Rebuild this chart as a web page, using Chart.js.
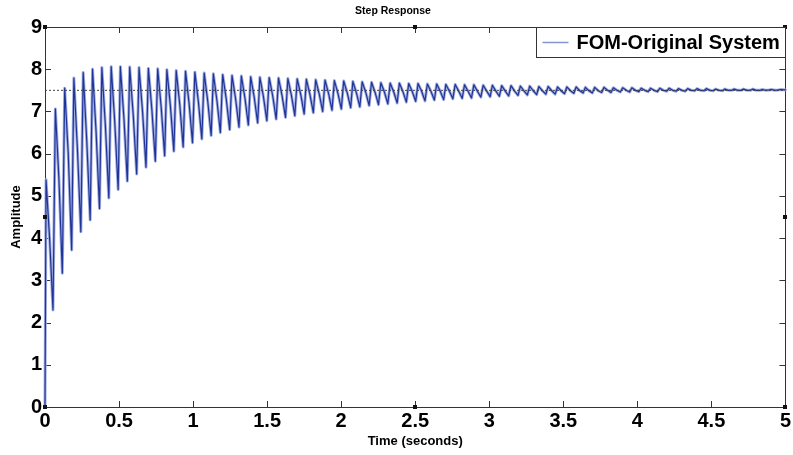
<!DOCTYPE html>
<html>
<head>
<meta charset="utf-8">
<script src="https://cdn.jsdelivr.net/npm/chart.js@4.4.0/dist/chart.umd.min.js"></script>
<style>
html, body { margin: 0; padding: 0; background: #fff; }
#wrap { width: 793px; height: 455px; }
</style>
</head>
<body>
<div id="wrap"><canvas id="stepChart" width="793" height="455"></canvas></div>
<script>
// step response: one peak, shoulder and trough per cycle
var startTime = 0, startAmp = 0;
var endTime = 5, endAmp = 7.51;
var finalValue = 7.5;

var peakTime = [0.007, 0.070, 0.133, 0.195, 0.258, 0.321, 0.384, 0.447, 0.509, 0.572,
  0.635, 0.698, 0.761, 0.823, 0.886, 0.949, 1.012, 1.075, 1.137, 1.200,
  1.263, 1.326, 1.389, 1.451, 1.514, 1.577, 1.640, 1.703, 1.765, 1.828,
  1.891, 1.954, 2.017, 2.079, 2.142, 2.205, 2.268, 2.331, 2.393, 2.456,
  2.519, 2.582, 2.645, 2.707, 2.770, 2.833, 2.896, 2.959, 3.021, 3.084,
  3.147, 3.210, 3.273, 3.335, 3.398, 3.461, 3.524, 3.587, 3.649, 3.712,
  3.775, 3.838, 3.901, 3.963, 4.026, 4.089, 4.152, 4.215, 4.277, 4.340,
  4.403, 4.466, 4.529, 4.591, 4.654, 4.717, 4.780, 4.843, 4.905, 4.968];
var peakAmp = [5.38, 7.06, 7.55, 7.79, 7.92, 8.00, 8.04, 8.06, 8.06, 8.05,
  8.04, 8.02, 8.01, 7.99, 7.97, 7.95, 7.93, 7.91, 7.89, 7.87,
  7.85, 7.84, 7.82, 7.81, 7.80, 7.79, 7.78, 7.77, 7.76, 7.75,
  7.74, 7.73, 7.72, 7.71, 7.70, 7.69, 7.68, 7.67, 7.67, 7.66,
  7.66, 7.65, 7.65, 7.64, 7.64, 7.63, 7.63, 7.62, 7.62, 7.61,
  7.61, 7.60, 7.60, 7.59, 7.59, 7.58, 7.58, 7.58, 7.57, 7.57,
  7.57, 7.56, 7.56, 7.56, 7.55, 7.55, 7.55, 7.55, 7.54, 7.54,
  7.54, 7.54, 7.53, 7.53, 7.53, 7.53, 7.53, 7.52, 7.52, 7.52];

var shoulderTime = [0.031, 0.094, 0.157, 0.219, 0.282, 0.345, 0.408, 0.471, 0.533, 0.596,
  0.659, 0.722, 0.785, 0.847, 0.910, 0.973, 1.036, 1.099, 1.161, 1.224,
  1.287, 1.350, 1.413, 1.475, 1.538, 1.601, 1.664, 1.727, 1.789, 1.852,
  1.915, 1.978, 2.041, 2.103, 2.166, 2.229, 2.292, 2.355, 2.417, 2.480,
  2.543, 2.606, 2.669, 2.731, 2.794, 2.857, 2.920, 2.983, 3.045, 3.108,
  3.171, 3.234, 3.297, 3.359, 3.422, 3.485, 3.548, 3.611, 3.673, 3.736,
  3.799, 3.862, 3.925, 3.987, 4.050, 4.113, 4.176, 4.239, 4.301, 4.364,
  4.427, 4.490, 4.553, 4.615, 4.678, 4.741, 4.804, 4.867, 4.929];
var shoulderAmp = [4.00, 5.40, 6.00, 6.10, 6.30, 6.52, 6.65, 6.75, 6.84, 6.91,
  6.98, 7.03, 7.08, 7.12, 7.16, 7.19, 7.22, 7.24, 7.26, 7.29,
  7.30, 7.32, 7.33, 7.35, 7.36, 7.37, 7.38, 7.40, 7.40, 7.41,
  7.42, 7.43, 7.44, 7.44, 7.45, 7.45, 7.46, 7.46, 7.47, 7.47,
  7.48, 7.48, 7.48, 7.48, 7.48, 7.48, 7.48, 7.48, 7.48, 7.48,
  7.48, 7.49, 7.49, 7.49, 7.49, 7.49, 7.49, 7.49, 7.49, 7.49,
  7.50, 7.50, 7.50, 7.50, 7.50, 7.50, 7.50, 7.50, 7.50, 7.50,
  7.50, 7.50, 7.50, 7.50, 7.50, 7.50, 7.50, 7.50, 7.50];

var troughTime = [0.054, 0.117, 0.180, 0.242, 0.305, 0.368, 0.431, 0.494, 0.556, 0.619,
  0.682, 0.745, 0.808, 0.870, 0.933, 0.996, 1.059, 1.122, 1.184, 1.247,
  1.310, 1.373, 1.436, 1.498, 1.561, 1.624, 1.687, 1.750, 1.812, 1.875,
  1.938, 2.001, 2.064, 2.126, 2.189, 2.252, 2.315, 2.378, 2.440, 2.503,
  2.566, 2.629, 2.692, 2.754, 2.817, 2.880, 2.943, 3.006, 3.068, 3.131,
  3.194, 3.257, 3.320, 3.382, 3.445, 3.508, 3.571, 3.634, 3.696, 3.759,
  3.822, 3.885, 3.948, 4.010, 4.073, 4.136, 4.199, 4.262, 4.324, 4.387,
  4.450, 4.513, 4.576, 4.638, 4.701, 4.764, 4.827, 4.890, 4.952];
var troughAmp = [2.30, 3.17, 3.72, 4.15, 4.43, 4.70, 4.95, 5.15, 5.35, 5.52,
  5.68, 5.82, 5.95, 6.06, 6.16, 6.26, 6.35, 6.43, 6.50, 6.57,
  6.63, 6.68, 6.73, 6.78, 6.82, 6.86, 6.90, 6.94, 6.97, 7.00,
  7.03, 7.06, 7.09, 7.11, 7.14, 7.16, 7.18, 7.20, 7.22, 7.24,
  7.25, 7.27, 7.28, 7.30, 7.31, 7.32, 7.34, 7.35, 7.36, 7.37,
  7.38, 7.39, 7.40, 7.41, 7.41, 7.42, 7.43, 7.44, 7.44, 7.45,
  7.45, 7.46, 7.46, 7.47, 7.47, 7.47, 7.48, 7.48, 7.48, 7.49,
  7.49, 7.49, 7.49, 7.50, 7.50, 7.50, 7.50, 7.51, 7.51];

var xTicks = [0, 0.5, 1, 1.5, 2, 2.5, 3, 3.5, 4, 4.5, 5];
var xTickLabels = ['0', '0.5', '1', '1.5', '2', '2.5', '3', '3.5', '4', '4.5', '5'];
var yTicks = [0, 1, 2, 3, 4, 5, 6, 7, 8, 9];
var yTickLabels = ['0', '1', '2', '3', '4', '5', '6', '7', '8', '9'];

var points = [{x: startTime, y: startAmp}];
for (var i = 0; i < peakTime.length; i++) {
    points.push({x: peakTime[i], y: peakAmp[i]});
    if (i < troughTime.length) {
        points.push({x: shoulderTime[i], y: shoulderAmp[i]});
        points.push({x: troughTime[i], y: troughAmp[i]});
    }
}
points.push({x: endTime, y: endAmp});

Chart.defaults.font.family = "'Liberation Sans', Arial, sans-serif";
Chart.defaults.color = '#000';

// matlab style box: frame, inward ticks on all sides, edit handles
var framePlugin = {
    id: 'frame',
    beforeDatasetsDraw: function (chart) {
        var ctx = chart.ctx, a = chart.chartArea;
        var xs = chart.scales.x, ys = chart.scales.y;
        ctx.save();
        ctx.strokeStyle = '#333';
        ctx.lineWidth = 1;
        ctx.strokeRect(Math.round(a.left) + 0.5, Math.round(a.top) + 0.5,
            Math.round(a.right - a.left), Math.round(a.bottom - a.top));
        ctx.beginPath();
        xTicks.forEach(function (v) {
            var px = Math.round(xs.getPixelForValue(v)) + 0.5;
            ctx.moveTo(px, a.bottom); ctx.lineTo(px, a.bottom - 6);
            ctx.moveTo(px, a.top); ctx.lineTo(px, a.top + 6);
        });
        yTicks.forEach(function (v) {
            var py = Math.round(ys.getPixelForValue(v)) + 0.5;
            ctx.moveTo(a.left, py); ctx.lineTo(a.left + 6, py);
            ctx.moveTo(a.right, py); ctx.lineTo(a.right - 6, py);
        });
        ctx.stroke();
        ctx.restore();
    },
    afterDraw: function (chart) {
        var ctx = chart.ctx, a = chart.chartArea;
        var mx = (a.left + a.right) / 2, my = (a.top + a.bottom) / 2;
        var spots = [[a.left, a.top], [mx, a.top], [a.right, a.top], [a.left, my],
            [a.right, my], [a.left, a.bottom], [mx, a.bottom], [a.right, a.bottom]];
        ctx.save();
        ctx.fillStyle = '#111';
        spots.forEach(function (s) {
            ctx.fillRect(Math.round(s[0]) - 2, Math.round(s[1]) - 2, 4, 4);
        });
        // legend box in the top right corner
        var ds = chart.data.datasets[1];
        var w = 249, h = 30;
        var bx = Math.round(a.right) - w + 0.5, by = Math.round(a.top) + 0.5;
        ctx.fillStyle = '#fff';
        ctx.fillRect(bx, by, w, h);
        ctx.strokeStyle = '#333';
        ctx.lineWidth = 1;
        ctx.strokeRect(bx, by, w, h);
        ctx.strokeStyle = '#8494d2';
        ctx.lineWidth = 1.5;
        ctx.beginPath();
        ctx.moveTo(bx + 6, by + 15);
        ctx.lineTo(bx + 32, by + 15);
        ctx.stroke();
        ctx.fillStyle = '#000';
        ctx.font = "bold 20px 'Liberation Sans', Arial, sans-serif";
        ctx.textBaseline = 'middle';
        ctx.fillText(ds.label, bx + 40, by + 16);
        ctx.restore();
    }
};

var canvas = document.getElementById('stepChart');

var stepChart = new Chart(canvas, {
    type: 'line',
    data: {
        datasets: [{
            label: 'halo',
            data: points,
            borderColor: '#a3aee0',
            borderWidth: 3,
            borderJoinStyle: 'round',
            borderCapStyle: 'round',
            pointRadius: 0,
            tension: 0,
            clip: false,
            order: 3
        }, {
            label: 'FOM-Original System',
            data: points,
            borderColor: '#1f3497',
            borderWidth: 1.2,
            borderJoinStyle: 'round',
            borderCapStyle: 'round',
            pointRadius: 0,
            tension: 0,
            clip: false,
            order: 2
        }, {
            label: 'final value',
            data: [{x: xTicks[0], y: finalValue}, {x: xTicks[xTicks.length - 1], y: finalValue}],
            borderColor: '#444',
            borderWidth: 1,
            borderDash: [2, 2],
            pointRadius: 0,
            order: 1
        }]
    },
    options: {
        responsive: false,
        animation: false,
        layout: { padding: { top: 0, right: 7, bottom: 0, left: 0 } },
        plugins: {
            legend: { display: false },
            tooltip: { enabled: false },
            title: {
                display: true,
                text: 'Step Response',
                font: { size: 10.5, weight: 'bold' },
                padding: { top: 5, bottom: 9.4 }
            }
        },
        scales: {
            x: {
                type: 'linear',
                min: 0,
                max: 5,
                afterFit: function (s) { s.height = 48; },
                afterBuildTicks: function (s) {
                    s.ticks = xTicks.map(function (v) { return {value: v}; });
                },
                ticks: {
                    padding: 2,
                    maxRotation: 0,
                    autoSkip: false,
                    font: { size: 20, weight: 'bold' },
                    callback: function (v, i) { return xTickLabels[i]; }
                },
                grid: { display: false, drawTicks: false, tickLength: 0 },
                border: { display: false },
                title: {
                    display: true,
                    text: 'Time (seconds)',
                    font: { size: 13, weight: 'bold' },
                    padding: { top: 0, bottom: 6 }
                }
            },
            y: {
                min: 0,
                max: 9,
                afterFit: function (s) { s.width = 45; },
                afterBuildTicks: function (s) {
                    s.ticks = yTicks.map(function (v) { return {value: v}; });
                },
                ticks: {
                    padding: 3,
                    autoSkip: false,
                    font: { size: 20, weight: 'bold' },
                    callback: function (v, i) { return yTickLabels[i]; }
                },
                grid: { display: false, drawTicks: false, tickLength: 0 },
                border: { display: false },
                title: {
                    display: true,
                    text: 'Amplitude',
                    font: { size: 13, weight: 'bold' },
                    padding: { top: 9, bottom: 0 }
                }
            }
        }
    },
    plugins: [framePlugin]
});
</script>
</body>
</html>
